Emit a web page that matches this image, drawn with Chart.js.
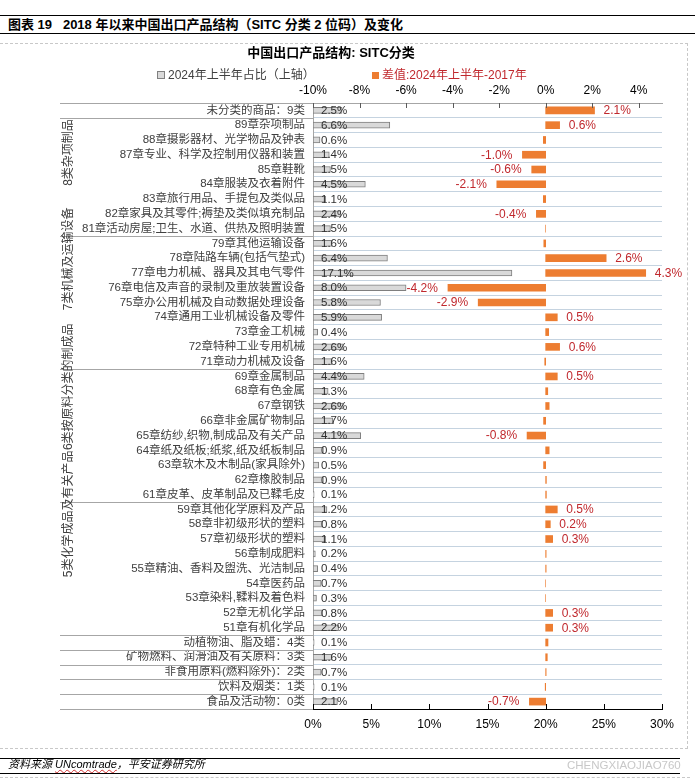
<!DOCTYPE html>
<html><head><meta charset="utf-8">
<script src="https://cdn.jsdelivr.net/npm/chart.js@4/dist/chart.umd.min.js"></script>
<style>
html,body{margin:0;padding:0;background:#fff}
body{width:695px;height:783px;position:relative;overflow:hidden;font-family:"Liberation Sans","Noto Sans CJK SC",sans-serif}
#c{position:absolute;left:0;top:0;width:695px;height:783px}
.hl{position:absolute;left:0;height:0;border-top:1.5px solid #000}
.dl{position:absolute;border-color:#c8c8c8;border-style:dashed;border-width:0}
#hdr{position:absolute;left:8px;top:16px;font-size:13px;font-weight:bold;color:#000;white-space:pre;line-height:17px}
#ttl{position:absolute;left:0;width:662px;top:44px;text-align:center;font-size:13px;font-weight:bold;color:#000;line-height:17px}
.lg{position:absolute;top:68px;font-size:12px;line-height:15px;white-space:nowrap}
.lg i{display:inline-block;width:7px;height:7px;margin-right:3px;vertical-align:0px}
#src{position:absolute;left:8px;top:758px;font-size:11px;font-style:italic;color:#000;line-height:13px}
#src u{text-decoration-line:underline;text-decoration-style:wavy;text-decoration-color:#d03030;text-decoration-thickness:1px;text-underline-offset:1px}
#wm{position:absolute;left:567px;top:758px;font-size:11.5px;color:#c8c8c8;line-height:14px}
</style></head><body>
<div class="hl" style="top:15px;width:695px;border-top-width:1px"></div>
<div id="hdr">图表 19   2018 年以来中国出口产品结构（SITC 分类 2 位码）及变化</div>
<div class="hl" style="top:33px;width:695px"></div>
<div class="dl" style="left:0;top:43px;width:687px;height:704px;border-width:1px 1px 1px 0"></div>
<canvas id="c" width="695" height="783"></canvas>
<div id="ttl">中国出口产品结构: SITC分类</div>
<div class="lg" style="left:157px;color:#404040"><i style="background:#d9d9d9;border:1px solid #808080;width:6px;height:6px"></i>2024年上半年占比（上轴）</div>
<div class="lg" style="left:372px;color:#c0282d"><i style="background:#ed7d31"></i>差值:2024年上半年-2017年</div>
<div class="hl" style="top:758px;width:680px"></div>
<div id="src">资料来源 <u>UNcomtrade</u>，平安证券研究所</div>
<div id="wm">CHENGXIAOJIAO760</div>
<div class="hl" style="top:773px;width:680px"></div>
<div class="dl" style="left:0;top:777px;width:690px;height:0;border-top-width:1px"></div>
<script>
const categories = [
  "未分类的商品：9类",
  "89章杂项制品",
  "88章摄影器材、光学物品及钟表",
  "87章专业、科学及控制用仪器和装置",
  "85章鞋靴",
  "84章服装及衣着附件",
  "83章旅行用品、手提包及类似品",
  "82章家具及其零件;褥垫及类似填充制品",
  "81章活动房屋;卫生、水道、供热及照明装置",
  "79章其他运输设备",
  "78章陆路车辆(包括气垫式)",
  "77章电力机械、器具及其电气零件",
  "76章电信及声音的录制及重放装置设备",
  "75章办公用机械及自动数据处理设备",
  "74章通用工业机械设备及零件",
  "73章金工机械",
  "72章特种工业专用机械",
  "71章动力机械及设备",
  "69章金属制品",
  "68章有色金属",
  "67章钢铁",
  "66章非金属矿物制品",
  "65章纺纱,织物,制成品及有关产品",
  "64章纸及纸板;纸浆,纸及纸板制品",
  "63章软木及木制品(家具除外)",
  "62章橡胶制品",
  "61章皮革、皮革制品及已鞣毛皮",
  "59章其他化学原料及产品",
  "58章非初级形状的塑料",
  "57章初级形状的塑料",
  "56章制成肥料",
  "55章精油、香料及盥洗、光洁制品",
  "54章医药品",
  "53章染料,鞣料及着色料",
  "52章无机化学品",
  "51章有机化学品",
  "动植物油、脂及蜡：4类",
  "矿物燃料、润滑油及有关原料：3类",
  "非食用原料(燃料除外)：2类",
  "饮料及烟类：1类",
  "食品及活动物：0类"
];
// 2024年上半年占比 (%)
const shareValues = [2.5,6.6,0.6,1.4,1.5,4.5,1.1,2.4,1.5,1.6,6.4,17.1,8.0,5.8,5.9,0.4,2.6,1.6,4.4,1.3,2.6,1.7,4.1,0.9,0.5,0.9,0.1,1.2,0.8,1.1,0.2,0.4,0.7,0.3,0.8,2.2,0.1,1.6,0.7,0.1,2.1];
// 差值: 2024年上半年-2017年 (%)
const diffValues = [2.1,0.6,-0.1,-1.0,-0.6,-2.1,-0.1,-0.4,0,-0.08,2.6,4.3,-4.2,-2.9,0.5,0.13,0.6,-0.04,0.5,0.09,0.15,-0.09,-0.8,0.15,-0.09,0.03,0.03,0.5,0.2,0.3,0.02,0.02,0,0,0.3,0.3,0.1,0.07,0.02,-0.02,-0.7];
// category groups and where the group caption is centred (row-index units)
const groupNames = ["8类杂项制品","7类机械及运输设备","6类按原料分类的制成品","5类化学成品及有关产品"];
const groupCenters = [2.85,10.05,18.7,27.3];
const separatorsAfter = [-1,0,8,17,26,35,36,37,38,39,40];
const bottomTicks = [0,5,10,15,20,25,30];
const topTicks = [-10,-8,-6,-4,-2,0,2,4];

const FONT = '"Liberation Sans","Noto Sans CJK SC",sans-serif';

const overlay = {
  id:'overlay',
  afterDatasetsDraw(chart){
    const {ctx, scales:{x, y}} = chart;
    ctx.save();
    ctx.textBaseline = 'middle';
    ctx.font = '11.5px ' + FONT; ctx.fillStyle = '#303030'; ctx.textAlign = 'left';
    chart.getDatasetMeta(0).data.forEach((bar,i)=>{
      ctx.fillText(shareValues[i].toFixed(1)+'%', x.getPixelForValue(0)+8, bar.y+0.5);
    });
    ctx.font = '12px ' + FONT; ctx.fillStyle = '#c0282d';
    chart.getDatasetMeta(1).data.forEach((bar,i)=>{
      const v = diffValues[i];
      if (Math.abs(v) < 0.2) return;
      if (v > 0){ ctx.textAlign='left'; ctx.fillText(v.toFixed(1)+'%', bar.x+9, bar.y+0.5); }
      else { ctx.textAlign='right'; ctx.fillText(v.toFixed(1)+'%', bar.x-10, bar.y+0.5); }
    });
    ctx.restore();
  },
  afterDraw(chart){
    const {ctx, scales:{x, x2, y}, chartArea:ca} = chart;
    ctx.save();
    const step = y.getPixelForValue(1) - y.getPixelForValue(0);
    ctx.strokeStyle = '#a6a6a6'; ctx.lineWidth = 1;
    separatorsAfter.forEach(i=>{
      const py = Math.round(y.getPixelForValue(i) + step/2) + 0.5;
      ctx.beginPath(); ctx.moveTo(60, py); ctx.lineTo(ca.left, py); ctx.stroke();
    });
    ctx.fillStyle = '#404040'; ctx.font = '12px ' + FONT; ctx.textAlign='center'; ctx.textBaseline='middle';
    groupNames.forEach((g,k)=>{
      const cy = y.getPixelForValue(0) + groupCenters[k]*step;
      ctx.save(); ctx.translate(69, cy); ctx.rotate(-Math.PI/2); ctx.fillText(g, 0, 0); ctx.restore();
    });
    ctx.strokeStyle = '#595959';
    topTicks.forEach(v=>{
      const px = Math.round(x2.getPixelForValue(v)) + 0.5;
      ctx.beginPath(); ctx.moveTo(px, ca.top); ctx.lineTo(px, ca.top+5); ctx.stroke();
    });
    ctx.strokeStyle = '#000';
    bottomTicks.forEach(v=>{
      const px = Math.round(x.getPixelForValue(v)) + 0.5;
      ctx.beginPath(); ctx.moveTo(px, ca.bottom); ctx.lineTo(px, ca.bottom-5); ctx.stroke();
    });
    ctx.restore();
  }
};

new Chart(document.getElementById('c'), {
  type:'bar',
  data:{
    labels: categories,
    datasets:[
      {label:'2024年上半年占比（上轴）', data: shareValues, xAxisID:'x', yAxisID:'y', grouped:false,
       backgroundColor:'#d9d9d9', borderColor:'#7f7f7f', borderWidth:1, borderSkipped:false, barThickness:6, order:2},
      {label:'差值:2024年上半年-2017年', data: diffValues, xAxisID:'x2', yAxisID:'y', grouped:false,
       backgroundColor:'#ed7d31', borderWidth:0, barThickness:7, order:1}
    ]
  },
  options:{
    indexAxis:'y', responsive:false, animation:false,
    layout:{padding:{left:0,right:33,top:0,bottom:0}},
    plugins:{legend:{display:false}, title:{display:false}, tooltip:{enabled:false}},
    scales:{
      y:{type:'category', position:'left', offset:true,
         grid:{offset:true, color:'#c5d3e0', lineWidth:1, drawTicks:false},
         border:{display:true, color:'#a6a6a6', width:1},
         ticks:{padding:8, color:'#404040', font:{family:FONT, size:11.5}, autoSkip:false},
         afterFit(s){ s.width = 313; }},
      x:{type:'linear', position:'bottom', min:0, max:30,
         afterBuildTicks(s){ s.ticks = bottomTicks.map(v=>({value:v})); },
         grid:{display:false, drawTicks:false},
         border:{display:true, color:'#000', width:1},
         ticks:{padding:8, color:'#000', font:{family:FONT, size:12}, callback:v=>v+'%'},
         afterFit(s){ s.height = 74; }},
      x2:{type:'linear', position:'top', min:-10, max:5,
         afterBuildTicks(s){ s.ticks = topTicks.map(v=>({value:v})); },
         grid:{display:false, drawTicks:false},
         border:{display:true, color:'#a6a6a6', width:1},
         ticks:{padding:5, color:'#000', font:{family:FONT, size:12}, callback:v=>v+'%'},
         afterFit(s){ s.height = 103; }}
    }
  },
  plugins:[overlay]
});
</script>
</body></html>
